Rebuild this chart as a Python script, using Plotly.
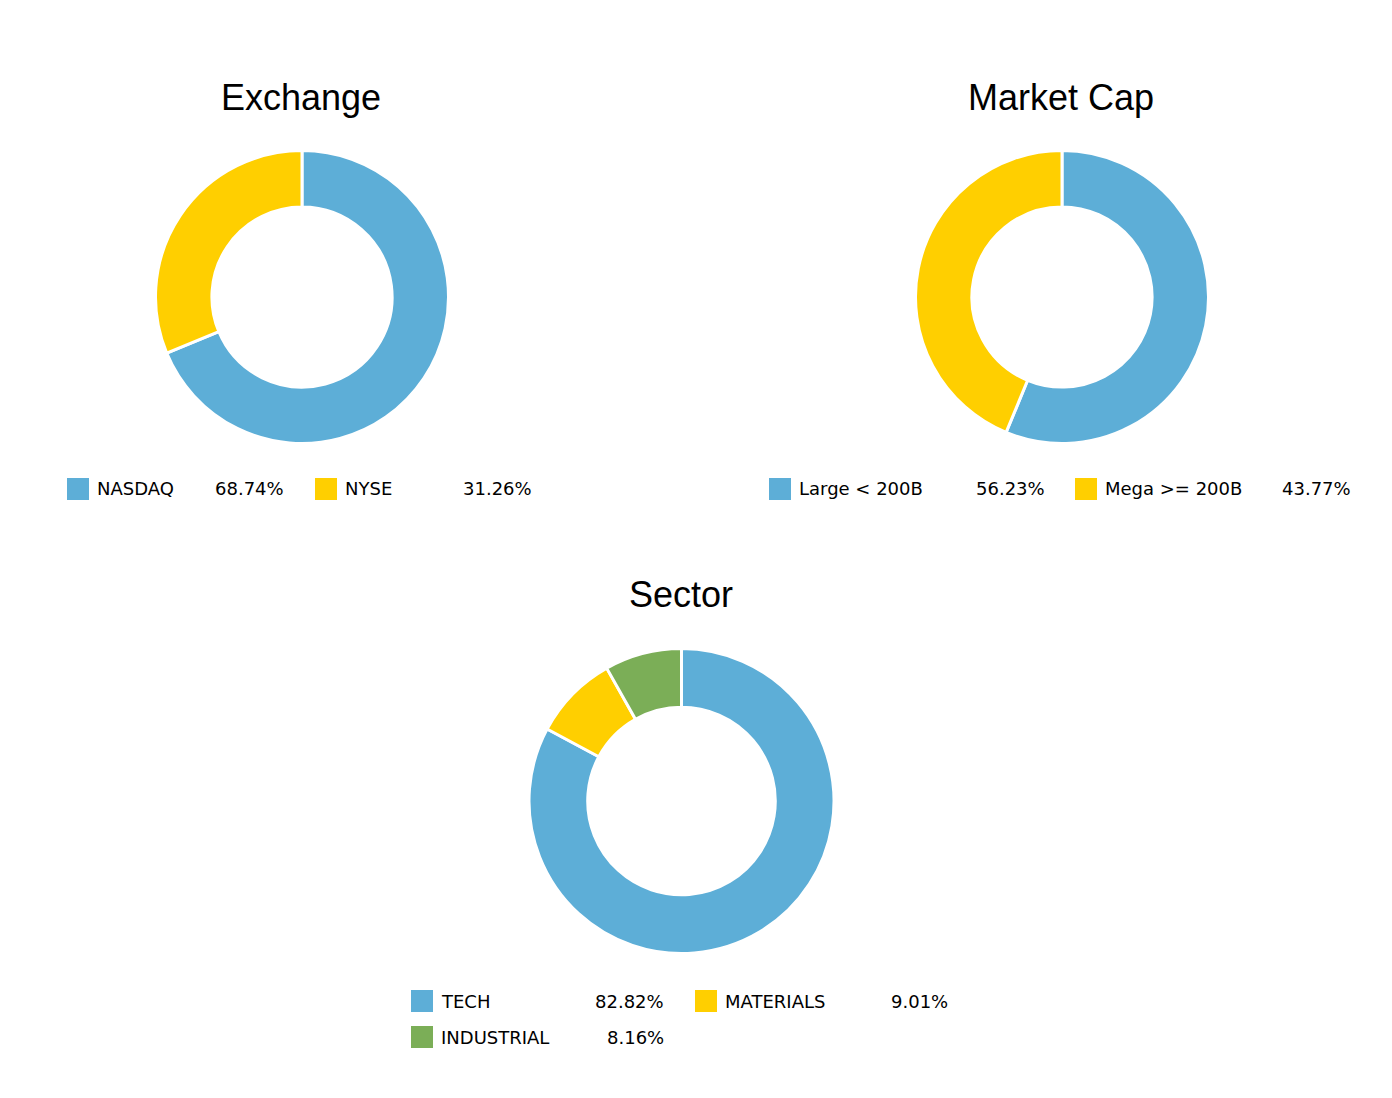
import plotly.graph_objects as go

W, H = 1392, 1098

# ---- data ----
exchange_labels = ["NASDAQ", "NYSE"]
exchange_values = [68.74, 31.26]

marketcap_labels = ["Large < 200B", "Mega >= 200B"]
marketcap_values = [56.23, 43.77]

sector_labels = ["TECH", "MATERIALS", "INDUSTRIAL"]
sector_values = [82.82, 9.01, 8.16]

titles = ["Exchange", "Market Cap", "Sector"]

# ---- styles ----
palette = ["#5DAED7", "#FFCF00", "#7BAE57"]

# pie boxes in pixels: (center x, center y, radius)
pie_geo = [(302, 297, 146.5), (1062, 297, 146.5), (681.5, 801, 152.5)]
title_pos = [(301, 97), (1061, 97), (681, 594)]
# legend: (start x, item spacing, pct right offset, first row center y)
legend_geo = [(67, 248, 217, 489), (769, 306, 276, 489), (411, 284, 253, 1001)]
row_h = 36
sq = 22


def px(x):
    return x / W


def py(y):
    return 1 - y / H


datasets = [
    (exchange_labels, exchange_values),
    (marketcap_labels, marketcap_values),
    (sector_labels, sector_values),
]

fig = go.Figure()
shapes = []
annotations = []

for i, (labels, values) in enumerate(datasets):
    cx, cy, r = pie_geo[i]
    fig.add_trace(go.Pie(
        labels=labels,
        values=values,
        hole=0.615,
        sort=False,
        direction="clockwise",
        rotation=0,
        textinfo="none",
        hoverinfo="label+percent",
        marker=dict(colors=palette[:len(labels)], line=dict(color="white", width=3)),
        domain=dict(x=[px(cx - r), px(cx + r)], y=[py(cy + r), py(cy - r)]),
        showlegend=False,
    ))
    tx, ty = title_pos[i]
    annotations.append(dict(
        x=px(tx), y=py(ty), xref="paper", yref="paper", text=titles[i],
        showarrow=False, xanchor="center", yanchor="middle",
        font=dict(family="Liberation Sans, Arial, sans-serif", size=36, color="#000"),
    ))
    x0, step, pct_off, y0 = legend_geo[i]
    for j, (lab, val) in enumerate(zip(labels, values)):
        col, row = j % 2, j // 2
        lx = x0 + col * step
        ly = y0 + row * row_h
        shapes.append(dict(
            type="rect", xref="paper", yref="paper",
            x0=px(lx), x1=px(lx + sq), y0=py(ly + sq / 2), y1=py(ly - sq / 2),
            fillcolor=palette[j], line=dict(width=0),
        ))
        annotations.append(dict(
            x=px(lx + sq + 6), y=py(ly), xref="paper", yref="paper", text=lab,
            showarrow=False, xanchor="left", yanchor="middle",
            font=dict(family="DejaVu Sans, Verdana, sans-serif", size=18, color="#000"),
        ))
        annotations.append(dict(
            x=px(lx + pct_off + 2), y=py(ly), xref="paper", yref="paper",
            text=f"{val:.2f}%",
            showarrow=False, xanchor="right", yanchor="middle",
            font=dict(family="DejaVu Sans, Verdana, sans-serif", size=18, color="#000"),
        ))

fig.update_layout(
    width=W, height=H,
    margin=dict(l=0, r=0, t=0, b=0),
    paper_bgcolor="white", plot_bgcolor="white",
    shapes=shapes, annotations=annotations,
)

fig.write_html("out.html")
